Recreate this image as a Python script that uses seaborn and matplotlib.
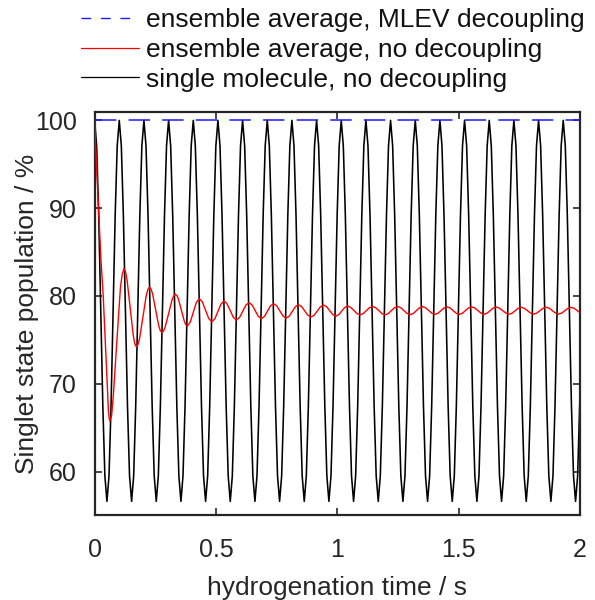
import matplotlib
matplotlib.use("Agg")
import matplotlib.pyplot as plt
import seaborn as sns
from matplotlib.lines import Line2D

# ---- data ----
# single molecule, no decoupling (time s, population %), 12 readings per cycle
black_t = [
    0.0000, 0.0085, 0.0169, 0.0254, 0.0339, 0.0423, 0.0508, 0.0593, 0.0677, 0.0762, 0.0847, 0.0931,
    0.1016, 0.1101, 0.1185, 0.1270, 0.1355, 0.1439, 0.1524, 0.1609, 0.1693, 0.1778, 0.1863, 0.1947,
    0.2032, 0.2117, 0.2201, 0.2286, 0.2371, 0.2455, 0.2540, 0.2625, 0.2709, 0.2794, 0.2879, 0.2963,
    0.3048, 0.3133, 0.3217, 0.3302, 0.3387, 0.3471, 0.3556, 0.3641, 0.3725, 0.3810, 0.3895, 0.3979,
    0.4064, 0.4149, 0.4233, 0.4318, 0.4403, 0.4487, 0.4572, 0.4657, 0.4741, 0.4826, 0.4911, 0.4995,
    0.5080, 0.5165, 0.5249, 0.5334, 0.5419, 0.5503, 0.5588, 0.5673, 0.5757, 0.5842, 0.5927, 0.6011,
    0.6096, 0.6181, 0.6265, 0.6350, 0.6435, 0.6519, 0.6604, 0.6689, 0.6773, 0.6858, 0.6943, 0.7027,
    0.7112, 0.7197, 0.7281, 0.7366, 0.7451, 0.7535, 0.7620, 0.7705, 0.7789, 0.7874, 0.7959, 0.8043,
    0.8128, 0.8213, 0.8297, 0.8382, 0.8467, 0.8551, 0.8636, 0.8721, 0.8805, 0.8890, 0.8975, 0.9059,
    0.9144, 0.9229, 0.9313, 0.9398, 0.9483, 0.9567, 0.9652, 0.9737, 0.9821, 0.9906, 0.9991, 1.0075,
    1.0160, 1.0245, 1.0329, 1.0414, 1.0499, 1.0583, 1.0668, 1.0753, 1.0837, 1.0922, 1.1007, 1.1091,
    1.1176, 1.1261, 1.1345, 1.1430, 1.1515, 1.1599, 1.1684, 1.1769, 1.1853, 1.1938, 1.2023, 1.2107,
    1.2192, 1.2277, 1.2361, 1.2446, 1.2531, 1.2615, 1.2700, 1.2785, 1.2869, 1.2954, 1.3039, 1.3123,
    1.3208, 1.3293, 1.3377, 1.3462, 1.3547, 1.3631, 1.3716, 1.3801, 1.3885, 1.3970, 1.4055, 1.4139,
    1.4224, 1.4309, 1.4393, 1.4478, 1.4563, 1.4647, 1.4732, 1.4817, 1.4901, 1.4986, 1.5071, 1.5155,
    1.5240, 1.5325, 1.5409, 1.5494, 1.5579, 1.5663, 1.5748, 1.5833, 1.5917, 1.6002, 1.6087, 1.6171,
    1.6256, 1.6341, 1.6425, 1.6510, 1.6595, 1.6679, 1.6764, 1.6849, 1.6933, 1.7018, 1.7103, 1.7187,
    1.7272, 1.7357, 1.7441, 1.7526, 1.7611, 1.7695, 1.7780, 1.7865, 1.7949, 1.8034, 1.8119, 1.8203,
    1.8288, 1.8373, 1.8457, 1.8542, 1.8627, 1.8711, 1.8796, 1.8881, 1.8965, 1.9050, 1.9135, 1.9219,
    1.9304, 1.9389, 1.9473, 1.9558, 1.9643, 1.9727, 1.9812, 1.9897, 1.9981, 2.0000]
black_v = [
    100.0, 97.1, 89.15, 78.3, 67.45, 59.5, 56.6, 59.5, 67.45, 78.3, 89.15, 97.1,
    100.0, 97.1, 89.15, 78.3, 67.45, 59.5, 56.6, 59.5, 67.45, 78.3, 89.15, 97.1,
    100.0, 97.1, 89.15, 78.3, 67.45, 59.5, 56.6, 59.5, 67.45, 78.3, 89.15, 97.1,
    100.0, 97.1, 89.15, 78.3, 67.45, 59.5, 56.6, 59.5, 67.45, 78.3, 89.15, 97.1,
    100.0, 97.1, 89.15, 78.3, 67.45, 59.5, 56.6, 59.5, 67.45, 78.3, 89.15, 97.1,
    100.0, 97.1, 89.15, 78.3, 67.45, 59.5, 56.6, 59.5, 67.45, 78.3, 89.15, 97.1,
    100.0, 97.1, 89.15, 78.3, 67.45, 59.5, 56.6, 59.5, 67.45, 78.3, 89.15, 97.1,
    100.0, 97.1, 89.15, 78.3, 67.45, 59.5, 56.6, 59.5, 67.45, 78.3, 89.15, 97.1,
    100.0, 97.1, 89.15, 78.3, 67.45, 59.5, 56.6, 59.5, 67.45, 78.3, 89.15, 97.1,
    100.0, 97.1, 89.15, 78.3, 67.45, 59.5, 56.6, 59.5, 67.45, 78.3, 89.15, 97.1,
    100.0, 97.1, 89.15, 78.3, 67.45, 59.5, 56.6, 59.5, 67.45, 78.3, 89.15, 97.1,
    100.0, 97.1, 89.15, 78.3, 67.45, 59.5, 56.6, 59.5, 67.45, 78.3, 89.15, 97.1,
    100.0, 97.1, 89.15, 78.3, 67.45, 59.5, 56.6, 59.5, 67.45, 78.3, 89.15, 97.1,
    100.0, 97.1, 89.15, 78.3, 67.45, 59.5, 56.6, 59.5, 67.45, 78.3, 89.15, 97.1,
    100.0, 97.1, 89.15, 78.3, 67.45, 59.5, 56.6, 59.5, 67.45, 78.3, 89.15, 97.1,
    100.0, 97.1, 89.15, 78.3, 67.45, 59.5, 56.6, 59.5, 67.45, 78.3, 89.15, 97.1,
    100.0, 97.1, 89.15, 78.3, 67.45, 59.5, 56.6, 59.5, 67.45, 78.3, 89.15, 97.1,
    100.0, 97.1, 89.15, 78.3, 67.45, 59.5, 56.6, 59.5, 67.45, 78.3, 89.15, 97.1,
    100.0, 97.1, 89.15, 78.3, 67.45, 59.5, 56.6, 59.5, 67.45, 78.3, 89.15, 97.1,
    100.0, 97.1, 89.15, 78.3, 67.45, 59.5, 56.6, 59.5, 67.45, 69.7]

# ensemble average, no decoupling
red_t = [
    0.0, 0.0068, 0.0165, 0.026, 0.0355, 0.052, 0.057, 0.060, 0.063, 0.0703,
    0.0775, 0.092, 0.1065, 0.11375, 0.121, 0.1274, 0.13375, 0.1465, 0.15925, 0.1656,
    0.172, 0.17875, 0.1855, 0.199, 0.2125, 0.21925, 0.226, 0.2324, 0.23875, 0.2515,
    0.26425, 0.2706, 0.277, 0.284, 0.291, 0.305, 0.319, 0.326, 0.333, 0.3391,
    0.34525, 0.3575, 0.36975, 0.3759, 0.382, 0.39425, 0.4065, 0.41875, 0.431, 0.444,
    0.457, 0.470, 0.483, 0.4955, 0.508, 0.5205, 0.533, 0.54575, 0.5585, 0.57125,
    0.584, 0.597, 0.610, 0.623, 0.636, 0.64875, 0.6615, 0.67425, 0.687, 0.6995,
    0.712, 0.7245, 0.737, 0.750, 0.763, 0.776, 0.789, 0.80175, 0.8145, 0.82725,
    0.840, 0.85275, 0.8655, 0.87825, 0.891, 0.904, 0.917, 0.930, 0.943, 0.95575,
    0.9685, 0.98125, 0.994, 1.006, 1.018, 1.030, 1.042, 1.055, 1.068, 1.081,
    1.094, 1.10675, 1.1195, 1.13225, 1.145, 1.158, 1.171, 1.184, 1.197, 1.20975,
    1.2225, 1.23525, 1.248, 1.261, 1.274, 1.287, 1.300, 1.31275, 1.3255, 1.33825,
    1.351, 1.36375, 1.3765, 1.38925, 1.402, 1.4145, 1.427, 1.4395, 1.452, 1.4645,
    1.477, 1.4895, 1.502, 1.51475, 1.5275, 1.54025, 1.553, 1.566, 1.579, 1.592,
    1.605, 1.61725, 1.6295, 1.64175, 1.654, 1.6675, 1.681, 1.6945, 1.708, 1.72025,
    1.7325, 1.74475, 1.757, 1.770, 1.783, 1.796, 1.809, 1.82175, 1.8345, 1.84725,
    1.860, 1.87275, 1.8855, 1.89825, 1.911, 1.924, 1.937, 1.950, 1.963, 1.97575,
    1.9885, 2.0]
red_v = [
    100.0, 95.5, 89.9, 84.2, 80.0, 70.1, 66.9, 66.1, 65.75, 66.41,
    68.8, 75.0, 81.0, 82.45, 83.1, 82.76, 81.8, 78.65, 75.5, 74.54,
    74.2, 74.46, 75.2, 77.6, 80.0, 80.74, 81.0, 80.80, 80.25, 78.43,
    76.6, 76.05, 75.85, 76.01, 76.48, 78.02, 79.55, 80.02, 80.18, 80.04,
    79.65, 78.38, 77.1, 76.71, 76.57, 77.03, 78.14, 79.24, 79.7, 79.31,
    78.38, 77.44, 77.05, 77.40, 78.24, 79.07, 79.42, 79.10, 78.34, 77.57,
    77.25, 77.54, 78.25, 78.95, 79.24, 78.97, 78.33, 77.68, 77.41, 77.66,
    78.27, 78.87, 79.12, 78.88, 78.30, 77.72, 77.48, 77.70, 78.24, 78.78,
    79.00, 78.79, 78.30, 77.81, 77.60, 77.80, 78.28, 78.76, 78.96, 78.78,
    78.33, 77.88, 77.70, 77.87, 78.28, 78.68, 78.85, 78.70, 78.35, 78.00,
    77.85, 77.99, 78.33, 78.66, 78.80, 78.66, 78.33, 77.99, 77.85, 77.99,
    78.33, 78.66, 78.80, 78.66, 78.34, 78.01, 77.87, 78.00, 78.33, 78.65,
    78.78, 78.65, 78.34, 78.03, 77.90, 78.03, 78.33, 78.63, 78.76, 78.63,
    78.33, 78.03, 77.90, 78.02, 78.33, 78.63, 78.75, 78.63, 78.34, 78.04,
    77.92, 78.04, 78.33, 78.62, 78.74, 78.62, 78.33, 78.04, 77.92, 78.04,
    78.32, 78.60, 78.72, 78.60, 78.33, 78.05, 77.93, 78.05, 78.33, 78.60,
    78.72, 78.60, 78.33, 78.05, 77.93, 78.04, 78.32, 78.59, 78.70, 78.59,
    78.32, 78.08]

# ensemble average, MLEV decoupling
blue_t = [0.0, 2.0]
blue_v = [100.0, 100.0]

series_labels = ["ensemble average, MLEV decoupling",
                 "ensemble average, no decoupling",
                 "single molecule, no decoupling"]
x_ticks = [0, 0.5, 1, 1.5, 2]
x_tick_labels = ["0", "0.5", "1", "1.5", "2"]
y_ticks = [60, 70, 80, 90, 100]
y_tick_labels = ["60", "70", "80", "90", "100"]

# ---- style ----
sns.set_style("ticks")
plt.rcParams['font.family'] = ['Liberation Sans', 'DejaVu Sans']
axis_col = '#262626'

fig = plt.figure(figsize=(5.95, 6.0), dpi=100)
ax = fig.add_axes([0.159, 0.141, 0.816, 0.673])

sns.lineplot(x=black_t, y=black_v, ax=ax, color='black', lw=1.15,
             sort=False, estimator=None, zorder=2)
sns.lineplot(x=red_t, y=red_v, ax=ax, color='#ff0000', lw=1.0,
             sort=False, estimator=None, zorder=3)
sns.lineplot(x=blue_t, y=blue_v, ax=ax, color='#1a1aff', lw=1.1,
             sort=False, estimator=None, zorder=4)
ax.lines[-1].set_dashes((14, 8))

ax.set_xlim(0, 2)
ax.set_ylim(55, 101)
ax.set_xticks(x_ticks)
ax.set_xticklabels(x_tick_labels)
ax.set_yticks(y_ticks)
ax.set_yticklabels(y_tick_labels)

for s in ax.spines.values():
    s.set_visible(True)
    s.set_linewidth(1.6)
    s.set_color(axis_col)

ax.tick_params(axis='both', direction='in', length=5, width=1.2, colors=axis_col,
               labelsize=18, top=True, right=True)
ax.tick_params(axis='x', pad=16)
ax.tick_params(axis='y', pad=13)

ax.set_xlabel("hydrogenation time / s", fontsize=19, color=axis_col, labelpad=10)
ax.set_ylabel("Singlet state population / %", fontsize=19, color=axis_col, labelpad=-3)

handles = [Line2D([], [], color='#1a1aff', lw=1.0, dashes=(7, 7)),
           Line2D([], [], color='#ff0000', lw=0.9),
           Line2D([], [], color='black', lw=0.9)]
leg = fig.legend(handles, series_labels, loc='upper left',
                 bbox_to_anchor=(81 / 595, 1 - 8 / 600),
                 frameon=False, fontsize=19, handlelength=2.2, handletextpad=0.25,
                 labelspacing=0.22, borderpad=0, borderaxespad=0)
for t in leg.get_texts():
    t.set_color('#111111')

fig.savefig("out.png", dpi=100)
